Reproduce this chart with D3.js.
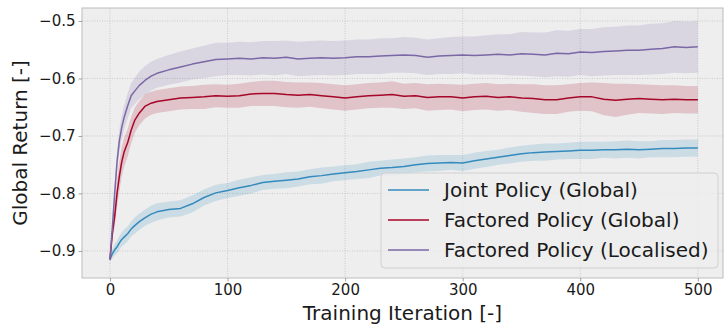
<!DOCTYPE html>
<html>
<head>
<meta charset="utf-8">
<script src="https://cdn.jsdelivr.net/npm/d3@7"></script>
<style>
  body { margin: 0; background: #fff; }
  svg { display: block; font-family: "DejaVu Sans", sans-serif; }
</style>
</head>
<body>
<script>
const iters = [0, 2, 4, 6, 8, 10, 12, 15, 18, 21, 25, 30, 35, 40,
  50, 60, 70, 80, 90, 100, 110, 120, 130, 140, 150, 160, 170, 180, 190, 200,
  210, 220, 230, 240, 250, 260, 270, 280, 290, 300, 310, 320, 330, 340, 350,
  360, 370, 380, 390, 400, 410, 420, 430, 440, 450, 460, 470, 480, 490, 500];

const jointMean = [-0.915, -0.905, -0.898, -0.893, -0.886, -0.880, -0.876, -0.870, -0.862, -0.856, -0.849, -0.842, -0.836, -0.832,
  -0.828, -0.826, -0.818, -0.807, -0.799, -0.795, -0.790, -0.786, -0.781, -0.779, -0.777, -0.775, -0.771, -0.769, -0.766, -0.764,
  -0.762, -0.759, -0.756, -0.755, -0.753, -0.750, -0.748, -0.747, -0.746, -0.747, -0.743, -0.740, -0.737, -0.734, -0.731,
  -0.729, -0.728, -0.727, -0.726, -0.725, -0.725, -0.724, -0.724, -0.723, -0.724, -0.723, -0.722, -0.722, -0.721, -0.721];
const jointSpread = [0.004, 0.008, 0.010, 0.011, 0.012, 0.012, 0.013, 0.013, 0.013, 0.014, 0.014, 0.014, 0.015, 0.015,
  0.014, 0.014, 0.015, 0.014, 0.014, 0.013, 0.014, 0.014, 0.013, 0.013, 0.014, 0.013, 0.013, 0.014, 0.013, 0.013,
  0.013, 0.014, 0.013, 0.014, 0.014, 0.013, 0.014, 0.014, 0.013, 0.014, 0.014, 0.014, 0.013, 0.014, 0.014,
  0.014, 0.015, 0.014, 0.014, 0.015, 0.015, 0.014, 0.015, 0.015, 0.015, 0.014, 0.015, 0.015, 0.015, 0.015];

const factGlobalMean = [-0.915, -0.870, -0.840, -0.800, -0.770, -0.745, -0.728, -0.712, -0.690, -0.673, -0.660, -0.648, -0.643, -0.640,
  -0.637, -0.634, -0.633, -0.632, -0.630, -0.631, -0.630, -0.627, -0.626, -0.626, -0.628, -0.629, -0.628, -0.630, -0.632, -0.634,
  -0.632, -0.630, -0.629, -0.628, -0.631, -0.630, -0.633, -0.632, -0.632, -0.634, -0.632, -0.631, -0.633, -0.632, -0.634,
  -0.635, -0.637, -0.637, -0.634, -0.632, -0.632, -0.636, -0.638, -0.636, -0.635, -0.636, -0.637, -0.636, -0.637, -0.637];
const factGlobalSpread = [0.004, 0.012, 0.018, 0.024, 0.026, 0.026, 0.025, 0.024, 0.023, 0.022, 0.021, 0.021, 0.020, 0.020,
  0.020, 0.020, 0.020, 0.021, 0.020, 0.020, 0.021, 0.021, 0.022, 0.022, 0.022, 0.022, 0.021, 0.022, 0.022, 0.022,
  0.022, 0.022, 0.022, 0.023, 0.022, 0.022, 0.023, 0.023, 0.022, 0.023, 0.023, 0.023, 0.023, 0.023, 0.024,
  0.025, 0.025, 0.025, 0.024, 0.024, 0.025, 0.028, 0.029, 0.027, 0.025, 0.025, 0.025, 0.024, 0.024, 0.024];

const factLocalMean = [-0.915, -0.860, -0.800, -0.745, -0.708, -0.685, -0.668, -0.648, -0.630, -0.622, -0.612, -0.603, -0.596, -0.591,
  -0.585, -0.580, -0.575, -0.571, -0.567, -0.566, -0.565, -0.566, -0.564, -0.565, -0.563, -0.566, -0.565, -0.564, -0.565, -0.564,
  -0.562, -0.562, -0.561, -0.560, -0.559, -0.560, -0.563, -0.561, -0.560, -0.559, -0.560, -0.559, -0.558, -0.559, -0.557,
  -0.558, -0.559, -0.556, -0.557, -0.554, -0.555, -0.553, -0.552, -0.551, -0.551, -0.549, -0.548, -0.545, -0.546, -0.545];
const factLocalSpread = [0.004, 0.010, 0.015, 0.018, 0.020, 0.020, 0.021, 0.022, 0.022, 0.023, 0.024, 0.025, 0.025, 0.025,
  0.026, 0.027, 0.027, 0.028, 0.029, 0.028, 0.029, 0.029, 0.029, 0.030, 0.029, 0.030, 0.030, 0.030, 0.030, 0.030,
  0.030, 0.030, 0.031, 0.030, 0.031, 0.031, 0.031, 0.031, 0.032, 0.032, 0.033, 0.034, 0.035, 0.036, 0.038,
  0.038, 0.039, 0.040, 0.040, 0.040, 0.041, 0.042, 0.042, 0.043, 0.043, 0.044, 0.044, 0.045, 0.045, 0.045];

const seriesNames = ["Joint Policy (Global)", "Factored Policy (Global)", "Factored Policy (Localised)"];
const seriesColors = ["#348ABD", "#A60628", "#7A68A6"];
const xTicks = [0, 100, 200, 300, 400, 500];
const yTicks = [-0.9, -0.8, -0.7, -0.6, -0.5];

const series = [
  { name: seriesNames[0], color: seriesColors[0], mean: jointMean, spread: jointSpread },
  { name: seriesNames[1], color: seriesColors[1], mean: factGlobalMean, spread: factGlobalSpread },
  { name: seriesNames[2], color: seriesColors[2], mean: factLocalMean, spread: factLocalSpread }
];

const width = 724, height = 325;
const box = { left: 82, right: 723, top: 8, bottom: 278 };

const x = d3.scaleLinear().domain([-23.8, 521.4]).range([box.left, box.right]);
const y = d3.scaleLinear().domain([-0.9471, -0.4774]).range([box.bottom, box.top]);

const svg = d3.select("body").append("svg")
  .attr("width", width)
  .attr("height", height);

svg.append("rect")
  .attr("x", box.left).attr("y", box.top)
  .attr("width", box.right - box.left).attr("height", box.bottom - box.top)
  .attr("fill", "#eeeeee");

// grid
svg.append("g").selectAll("line").data(xTicks).join("line")
  .attr("x1", d => x(d)).attr("x2", d => x(d))
  .attr("y1", box.top).attr("y2", box.bottom)
  .attr("stroke", "#b2b2b2").attr("stroke-width", 0.6).attr("stroke-dasharray", "1,1.5");
svg.append("g").selectAll("line").data(yTicks).join("line")
  .attr("x1", box.left).attr("x2", box.right)
  .attr("y1", d => y(d)).attr("y2", d => y(d))
  .attr("stroke", "#b2b2b2").attr("stroke-width", 0.6).attr("stroke-dasharray", "1,1.5");

// bands and lines
const area = d3.area()
  .x((d, i) => x(iters[i]))
  .y0(d => y(d[0] - d[1]))
  .y1(d => y(d[0] + d[1]));
const line = d3.line()
  .x((d, i) => x(iters[i]))
  .y(d => y(d));

series.forEach(s => {
  svg.append("path")
    .datum(s.mean.map((m, i) => [m, s.spread[i]]))
    .attr("d", area)
    .attr("fill", s.color).attr("fill-opacity", 0.18);
});
series.forEach(s => {
  svg.append("path")
    .datum(s.mean)
    .attr("d", line)
    .attr("fill", "none")
    .attr("stroke", s.color).attr("stroke-width", 1.5)
    .attr("stroke-linejoin", "round");
});

// frame
svg.append("rect")
  .attr("x", box.left).attr("y", box.top)
  .attr("width", box.right - box.left).attr("height", box.bottom - box.top)
  .attr("fill", "none").attr("stroke", "#bcbcbc").attr("stroke-width", 1);

// axes
const fmt = d => d3.format(".1f")(d).replace("-", "\u2212");
const xAxis = svg.append("g")
  .attr("transform", `translate(0,${box.bottom})`)
  .call(d3.axisBottom(x).tickValues(xTicks).tickSize(3.5).tickPadding(3));
const yAxis = svg.append("g")
  .attr("transform", `translate(${box.left},0)`)
  .call(d3.axisLeft(y).tickValues(yTicks).tickFormat(fmt).tickSize(3.5).tickPadding(3));
[xAxis, yAxis].forEach(g => {
  g.select(".domain").remove();
  g.selectAll(".tick line").attr("stroke", "#8a8a8a").attr("stroke-width", 0.8);
  g.selectAll(".tick text").attr("fill", "#1a1a1a").attr("font-size", 15)
    .attr("font-family", "DejaVu Sans");
});

svg.append("text")
  .attr("x", (box.left + box.right) / 2).attr("y", 319.5)
  .attr("text-anchor", "middle")
  .attr("font-size", 20).attr("fill", "#1a1a1a")
  .text("Training Iteration [-]");
svg.append("text")
  .attr("transform", `translate(27,${(box.top + box.bottom) / 2}) rotate(-90)`)
  .attr("text-anchor", "middle")
  .attr("font-size", 20).attr("fill", "#1a1a1a")
  .text("Global Return [-]");

// legend
const legend = svg.append("g");
legend.append("rect")
  .attr("x", 381).attr("y", 173).attr("width", 337).attr("height", 95).attr("rx", 4)
  .attr("fill", "#eeeeee").attr("fill-opacity", 0.8)
  .attr("stroke", "#d0d0d0").attr("stroke-width", 1);
const rows = legend.selectAll("g.row").data(series).join("g")
  .attr("class", "row")
  .attr("transform", (d, i) => `translate(0,${190 + i * 30})`);
rows.append("line")
  .attr("x1", 388).attr("x2", 429)
  .attr("stroke", d => d.color).attr("stroke-width", 1.5);
rows.append("text")
  .attr("x", 444).attr("dy", "0.35em")
  .attr("font-size", 20).attr("fill", "#1a1a1a")
  .text(d => d.name);
</script>
</body>
</html>
